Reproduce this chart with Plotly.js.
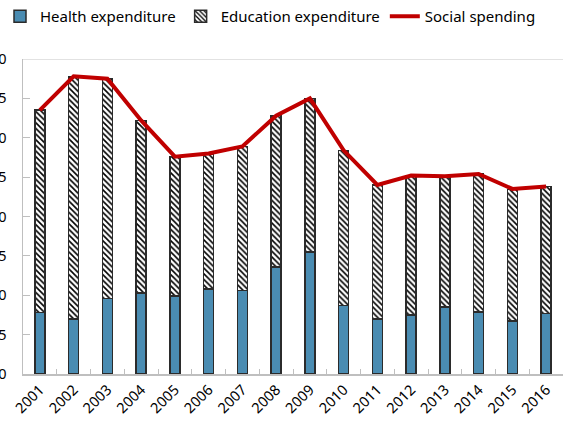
<!DOCTYPE html>
<html>
<head>
<meta charset="utf-8">
<script src="https://cdn.plot.ly/plotly-3.0.1.min.js"></script>
<style>
  html, body { margin: 0; padding: 0; background: #fff; }
  #chart { width: 563px; height: 422px; }
</style>
</head>
<body>
<div id="chart"></div>
<script>
// Data
const years = ['2001', '2002', '2003', '2004', '2005', '2006', '2007', '2008',
               '2009', '2010', '2011', '2012', '2013', '2014', '2015', '2016'];
const health = [7.8, 7.0, 9.6, 10.3, 9.9, 10.8, 10.6, 13.6,
                15.5, 8.7, 7.0, 7.5, 8.5, 7.9, 6.7, 7.7];
const education = [25.7, 30.8, 27.9, 21.9, 17.7, 17.1, 18.3, 19.2,
                   19.5, 19.7, 17.0, 17.6, 16.5, 17.5, 16.7, 16.1];
const social = [33.5, 37.8, 37.5, 32.2, 27.6, 28.0, 28.9, 32.8,
                35.0, 28.4, 24.0, 25.2, 25.1, 25.4, 23.5, 23.8];
const yTicks = [0, 5, 10, 15, 20, 25, 30, 35, 40];

const FONT = 'Noto Sans, Open Sans, sans-serif';
const AXIS_GRAY = '#bfbfbf';
const BAR_EDGE = '#2b2b2b';

const healthTrace = {
    x: years,
    y: health,
    type: 'bar',
    name: 'Health expenditure',
    width: 0.3,
    marker: {
        color: '#4a8cb2',
        line: { color: BAR_EDGE, width: 1.5 }
    }
};

const educationTrace = {
    x: years,
    y: education,
    type: 'bar',
    name: 'Education expenditure',
    width: 0.3,
    marker: {
        color: '#ffffff',
        line: { color: BAR_EDGE, width: 1.5 },
        pattern: {
            shape: '\\',
            fgcolor: '#000000',
            bgcolor: '#ffffff',
            size: 4,
            solidity: 0.4
        }
    }
};

const socialTrace = {
    x: years,
    y: social,
    type: 'scatter',
    mode: 'lines',
    name: 'Social spending',
    line: { color: '#c00000', width: 4 }
};

const layout = {
    width: 563,
    height: 422,
    margin: { l: 23, r: 0, t: 59, b: 48 },
    paper_bgcolor: '#ffffff',
    plot_bgcolor: '#ffffff',
    barmode: 'stack',
    bargap: 0.7,
    font: { family: FONT, size: 14, color: '#000000' },
    showlegend: true,
    legend: {
        orientation: 'h',
        x: 0.0,
        xanchor: 'left',
        y: 1.0,
        yanchor: 'top',
        xref: 'container',
        yref: 'container',
        font: { family: FONT, size: 15, color: '#000000' },
        itemwidth: 30,
        tracegroupgap: 0,
        traceorder: 'normal'
    },
    xaxis: {
        type: 'category',
        tickangle: -45,
        showline: true,
        linecolor: AXIS_GRAY,
        linewidth: 1.5,
        ticks: 'inside',
        tickson: 'boundaries',
        ticklen: 5,
        tickcolor: AXIS_GRAY,
        showgrid: false,
        zeroline: false,
        tickfont: { family: FONT, size: 14.5, color: '#000000' },
        automargin: false
    },
    yaxis: {
        range: [0, 40],
        tickvals: yTicks,
        ticktext: yTicks.map(String),
        showline: true,
        linecolor: AXIS_GRAY,
        linewidth: 1.5,
        ticks: 'inside',
        ticklen: 7,
        tickcolor: AXIS_GRAY,
        showgrid: false,
        zeroline: false,
        ticklabelstandoff: 12,
        tickfont: { family: FONT, size: 14.5, color: '#000000' },
        automargin: false
    },
    shapes: [
        {
            type: 'line',
            xref: 'paper', yref: 'y',
            x0: 0, x1: 1, y0: 40, y1: 40,
            line: { color: '#d9d9d9', width: 1.5 }
        }
    ]
};

Plotly.newPlot('chart', [healthTrace, educationTrace, socialTrace], layout,
    { displayModeBar: false, staticPlot: true });
</script>
</body>
</html>
